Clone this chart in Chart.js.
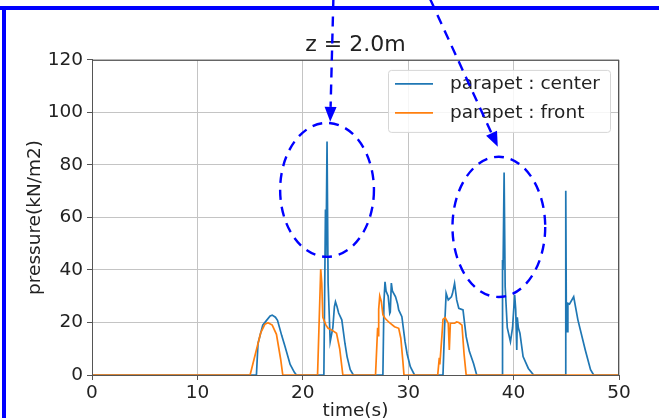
<!DOCTYPE html>
<html>
<head>
<meta charset="utf-8">
<script src="https://cdn.jsdelivr.net/npm/chart.js@4/dist/chart.umd.min.js"></script>
<style>
  html, body { margin: 0; padding: 0; background: #fff; }
  #wrap { width: 659px; height: 418px; overflow: hidden; }
</style>
</head>
<body>
<div id="wrap"><canvas id="chart" width="659" height="418"></canvas></div>
<script>
// ── 1. DATA ─────────────────────────────────────
const TITLE = 'z = 2.0m';
const X_LABEL = 'time(s)';
const Y_LABEL = 'pressure(kN/m2)';
const X_TICKS = [0, 10, 20, 30, 40, 50];
const Y_TICKS = [0, 20, 40, 60, 80, 100, 120];
const SERIES_NAMES = ['parapet : center', 'parapet : front'];

// parapet : center
const centerT = [0, 15.6, 15.75, 16.2, 16.6, 16.9, 17.1, 17.4, 17.6, 18.0, 18.3, 18.8, 19.2, 19.4,
  22.0, 22.15, 22.2, 22.3, 22.4, 22.6, 22.85, 23.0, 23.1, 23.25, 23.4, 23.7, 24.0, 24.2, 24.5, 24.8,
  27.6, 27.7, 27.8, 27.9, 28.1, 28.25, 28.3, 28.4, 28.5, 28.8, 29.0, 29.1, 29.4, 29.7, 29.9, 30.2, 30.6,
  33.3, 33.45, 33.6, 33.8, 34.1, 34.2, 34.4, 34.6, 34.8, 35.2, 35.5, 35.8, 36.2, 36.5,
  38.9, 38.95, 39.0, 39.1, 39.2, 39.4, 39.7, 39.9, 40.1, 40.2, 40.3, 40.35, 40.45, 40.6, 40.9, 41.4, 41.9,
  44.9, 44.95, 45.0, 45.1, 45.15, 45.3, 45.7, 46.1, 46.8, 47.3, 47.6, 50];
const centerP = [0, 0, 12, 19, 21, 22.5, 22.8, 22, 20.8, 15, 11, 4, 1, 0,
  0, 63, 45, 88.9, 35, 12.7, 18, 26, 27.9, 26, 23.6, 21, 12, 7, 2, 0,
  0, 28, 35.5, 32, 30, 23.5, 24, 35, 32, 29.8, 27, 24.8, 22.2, 12.7, 8, 3.2, 0,
  0, 18, 31.1, 28.6, 29.8, 31, 34.9, 28.6, 25.4, 24.8, 14.6, 9, 4.4, 0,
  0, 43.8, 40, 77.1, 33.6, 18, 12.7, 18, 30.5, 25, 9.5, 22, 18, 15.9, 7, 2.5, 0,
  0, 70.2, 26.7, 16.5, 27.3, 27, 29.8, 21, 9.5, 2, 0, 0];

// parapet : front
const frontT = [0, 15.0, 15.5, 16.0, 16.4, 16.7, 17.1, 17.5, 17.9, 18.1,
  21.4, 21.7, 21.8, 21.9, 22.2, 22.4, 22.8, 23.2, 23.5, 23.8,
  26.9, 27.1, 27.15, 27.2, 27.3, 27.45, 27.6, 27.8, 28.2, 28.7, 29.1, 29.3, 29.5, 29.6,
  32.8, 32.95, 33.0, 33.2, 33.3, 33.5, 33.8, 33.9, 34.0, 34.4, 34.6, 34.8, 35.1, 35.3, 35.5, 50];
const frontP = [0, 0, 8, 16, 19.3, 19.9, 19, 15.5, 6, 0,
  0, 40.3, 35, 22, 19, 17.8, 17, 15.9, 10, 0,
  0, 18, 15, 25, 30.1, 28, 23, 21.6, 20, 18.4, 17.8, 14, 5, 0,
  0, 6.5, 4, 15, 21.2, 21.9, 19.7, 9.5, 19.7, 19.7, 20.2, 20, 19, 8, 0, 0];

// call-outs drawn over the plot (data units: time, pressure)
const ELLIPSES = [
  { t: 22.3, p: 70.5, rt: 4.45, rp: 25.5 },
  { t: 38.6, p: 56.4, rt: 4.4, rp: 26.7 }
];
const ARROWS = [
  { t0: 22.9, p0: 143, t1: 22.6, p1: 96.4 },
  { t0: 32.1, p0: 143, t1: 38.5, p1: 86.9 }
];

const BLUE = '#1f77b4';
const ORANGE = '#ff7f0e';
const MARK = '#0000ff';
const FONT = 'DejaVu Sans';

const toPoints = (ts, ps) => ts.map((t, i) => ({ x: t, y: ps[i] }));

// ── 2. PLUGINS ──────────────────────────────────
const frame = {
  id: 'frame',
  beforeDraw(chart) {
    const ctx = chart.ctx;
    ctx.save();
    ctx.fillStyle = '#fff';
    ctx.fillRect(0, 0, chart.width, chart.height);
    ctx.restore();
  },
  afterDatasetsDraw(chart) {
    const { ctx, chartArea: a } = chart;
    ctx.save();
    ctx.strokeStyle = '#555';
    ctx.lineWidth = 1;
    ctx.strokeRect(a.left + 0.5, a.top + 0.5, a.right - a.left - 1, a.bottom - a.top);
    ctx.restore();
  }
};

const legendBox = {
  id: 'legendBox',
  afterDatasetsDraw(chart) {
    const { ctx, chartArea: a } = chart;
    const w = 222, h = 62;
    const x = a.right - 9 - w, y = a.top + 10;
    ctx.save();
    ctx.beginPath();
    ctx.roundRect(x + 0.5, y + 0.5, w, h, 3);
    ctx.fillStyle = 'rgba(255,255,255,0.85)';
    ctx.fill();
    ctx.strokeStyle = '#d6d6d6';
    ctx.lineWidth = 1;
    ctx.stroke();
    ctx.font = '18.5px "' + FONT + '"';
    ctx.textBaseline = 'middle';
    ctx.fillStyle = '#222';
    chart.data.datasets.forEach((ds, i) => {
      const ly = y + 14 + i * 29;
      ctx.beginPath();
      ctx.moveTo(x + 7, ly);
      ctx.lineTo(x + 45, ly);
      ctx.strokeStyle = ds.borderColor;
      ctx.lineWidth = 1.6;
      ctx.stroke();
      ctx.fillText(ds.label, x + 62, ly);
    });
    ctx.restore();
  }
};

const callouts = {
  id: 'callouts',
  afterDraw(chart) {
    const { ctx } = chart;
    const sx = chart.scales.x, sy = chart.scales.y;
    ctx.save();
    // blue frame around the figure
    ctx.fillStyle = MARK;
    ctx.fillRect(0, 6, chart.width, 4);
    ctx.fillRect(2, 6, 4, chart.height);

    ctx.strokeStyle = MARK;
    ctx.lineWidth = 2.4;
    ctx.setLineDash([10, 7]);
    ELLIPSES.forEach(e => {
      const cx = sx.getPixelForValue(e.t), cy = sy.getPixelForValue(e.p);
      const rx = sx.getPixelForValue(e.t + e.rt) - cx;
      const ry = cy - sy.getPixelForValue(e.p + e.rp);
      ctx.beginPath();
      ctx.ellipse(cx, cy, rx, ry, 0, 0, Math.PI * 2);
      ctx.stroke();
    });

    ARROWS.forEach(ar => {
      const x0 = sx.getPixelForValue(ar.t0), y0 = sy.getPixelForValue(ar.p0);
      const x1 = sx.getPixelForValue(ar.t1), y1 = sy.getPixelForValue(ar.p1);
      const ang = Math.atan2(y1 - y0, x1 - x0);
      const head = 15, half = 6;
      const bx = x1 - head * Math.cos(ang), by = y1 - head * Math.sin(ang);
      ctx.setLineDash([10, 7]);
      ctx.beginPath();
      ctx.moveTo(x0, y0);
      ctx.lineTo(bx, by);
      ctx.stroke();
      ctx.setLineDash([]);
      ctx.beginPath();
      ctx.moveTo(x1, y1);
      ctx.lineTo(bx + half * Math.sin(ang), by - half * Math.cos(ang));
      ctx.lineTo(bx - half * Math.sin(ang), by + half * Math.cos(ang));
      ctx.closePath();
      ctx.fillStyle = MARK;
      ctx.fill();
    });
    ctx.restore();
  }
};

// ── 3. CHART ────────────────────────────────────
new Chart(document.getElementById('chart'), {
  type: 'line',
  data: {
    datasets: [
      { label: SERIES_NAMES[0], data: toPoints(centerT, centerP), borderColor: BLUE, order: 1 },
      { label: SERIES_NAMES[1], data: toPoints(frontT, frontP), borderColor: ORANGE, order: 0 }
    ]
  },
  options: {
    responsive: false,
    animation: false,
    devicePixelRatio: 1,
    layout: { padding: { left: 0, right: 40, top: 0, bottom: 0 } },
    elements: {
      line: { borderWidth: 1.7, tension: 0, fill: false },
      point: { radius: 0 }
    },
    plugins: {
      legend: { display: false },
      tooltip: { enabled: false },
      title: {
        display: true,
        fullSize: false,
        text: TITLE,
        color: '#222',
        font: { family: FONT, size: 22, weight: 'normal' },
        padding: { top: 32, bottom: 1.5 }
      }
    },
    scales: {
      x: {
        type: 'linear',
        min: 0, max: 50,
        afterBuildTicks: s => { s.ticks = X_TICKS.map(v => ({ value: v })); },
        afterFit: s => { s.height = 43; },
        ticks: { color: '#222', font: { family: FONT, size: 18.5 }, padding: 2, maxRotation: 0 },
        grid: { color: '#c4c4c4', lineWidth: 1, tickLength: 5, tickColor: '#555' },
        border: { color: '#555' },
        title: {
          display: true, text: X_LABEL, color: '#222',
          font: { family: FONT, size: 18.5 }, padding: { top: 0, bottom: -4.7 }
        }
      },
      y: {
        min: 0, max: 120,
        afterBuildTicks: s => { s.ticks = Y_TICKS.map(v => ({ value: v })); },
        afterFit: s => { s.width = 92; },
        ticks: { color: '#222', font: { family: FONT, size: 18.5 }, padding: 4 },
        grid: { color: '#c4c4c4', lineWidth: 1, tickLength: 5, tickColor: '#555' },
        border: { color: '#555' },
        title: {
          display: true, text: Y_LABEL, color: '#222',
          font: { family: FONT, size: 18.5 }, padding: { top: 24.5, bottom: 0 }
        }
      }
    }
  },
  plugins: [frame, legendBox, callouts]
});
</script>
</body>
</html>
